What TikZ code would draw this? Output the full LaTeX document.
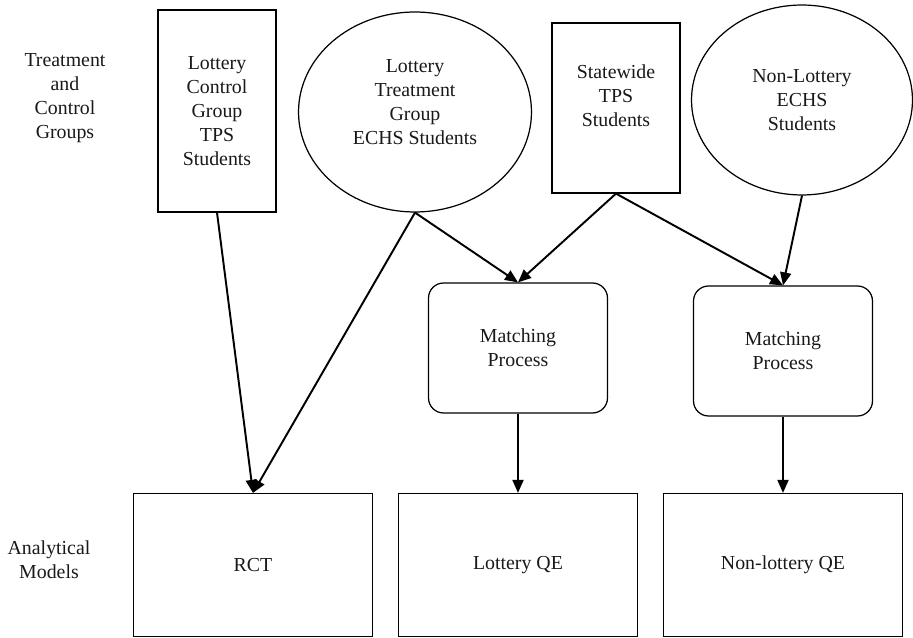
\documentclass[tikz,border=0pt]{standalone}
\usepackage{fontspec}
\setmainfont{Liberation Serif}
\usetikzlibrary{shapes.geometric,arrows.meta}
\begin{document}
\begin{tikzpicture}[x=0.02cm, y=-0.02cm,
    every node/.style ={font=\fontsize{11.3}{13.6}\selectfont, text=black!90},
    group/.style ={rectangle, draw, line width=0.7pt, align=center, inner sep=0pt},
    sample/.style ={ellipse, draw, line width=0.7pt, align=center, inner sep=0pt},
    matching/.style ={rectangle, rounded corners=0.3cm, draw, line width=0.7pt, align=center,
                      minimum width=3.58cm, minimum height=2.6cm},
    model/.style ={rectangle, draw, line width=0.7pt, minimum width=4.78cm, minimum height=2.86cm},
    link/.style ={line width=1.1pt, -{Triangle[length=0.26cm,width=0.22cm]}}]
   \useasboundingbox (0,0) rectangle (913,638);

   % row labels
   \node[align=center] (rowA) at (65,98)  {Treatment\\and\\Control\\Groups};
   \node[align=center] (rowB) at (49,560) {Analytical\\Models};

   % treatment and control groups
   \node[group, minimum width=2.36cm, minimum height=4.04cm] (ctrl) at (217,111)
      {Lottery\\Control\\Group\\TPS\\Students};
   \node[sample, minimum width=4.66cm, minimum height=4.0cm, text depth=0.40cm] (treat) at (415,112)
      {Lottery\\Treatment\\Group\\ECHS Students};
   \node[group, minimum width=2.56cm, minimum height=3.4cm, text depth=0.49cm] (state) at (616,108)
      {Statewide\\TPS\\Students};
   \node[sample, minimum width=4.42cm, minimum height=3.8cm] (nonlot) at (802,100)
      {Non-Lottery\\ECHS\\Students};

   % matching
   \node[matching] (mpA) at (518,348) {Matching\\Process};
   \node[matching] (mpB) at (783,351) {Matching\\Process};

   % analytical models
   \node[model] (rct)  at (253,565) {RCT};
   \node[model] (lqe)  at (518,565) {Lottery QE};
   \node[model] (nlqe) at (783,565) {Non-lottery QE};

   \draw[link] (ctrl.south)   to (rct.north);
   \draw[link] (treat.south)  to (rct.north);
   \draw[link] (treat.south)  to (mpA.north);
   \draw[link] (state.south)  to (mpA.north);
   \draw[link] (state.south)  to (mpB.north);
   \draw[link] (nonlot.south) to (mpB.north);
   \draw[link] (mpA.south)    to (lqe.north);
   \draw[link] (mpB.south)    to (nlqe.north);
 \end{tikzpicture}
\end{document}
